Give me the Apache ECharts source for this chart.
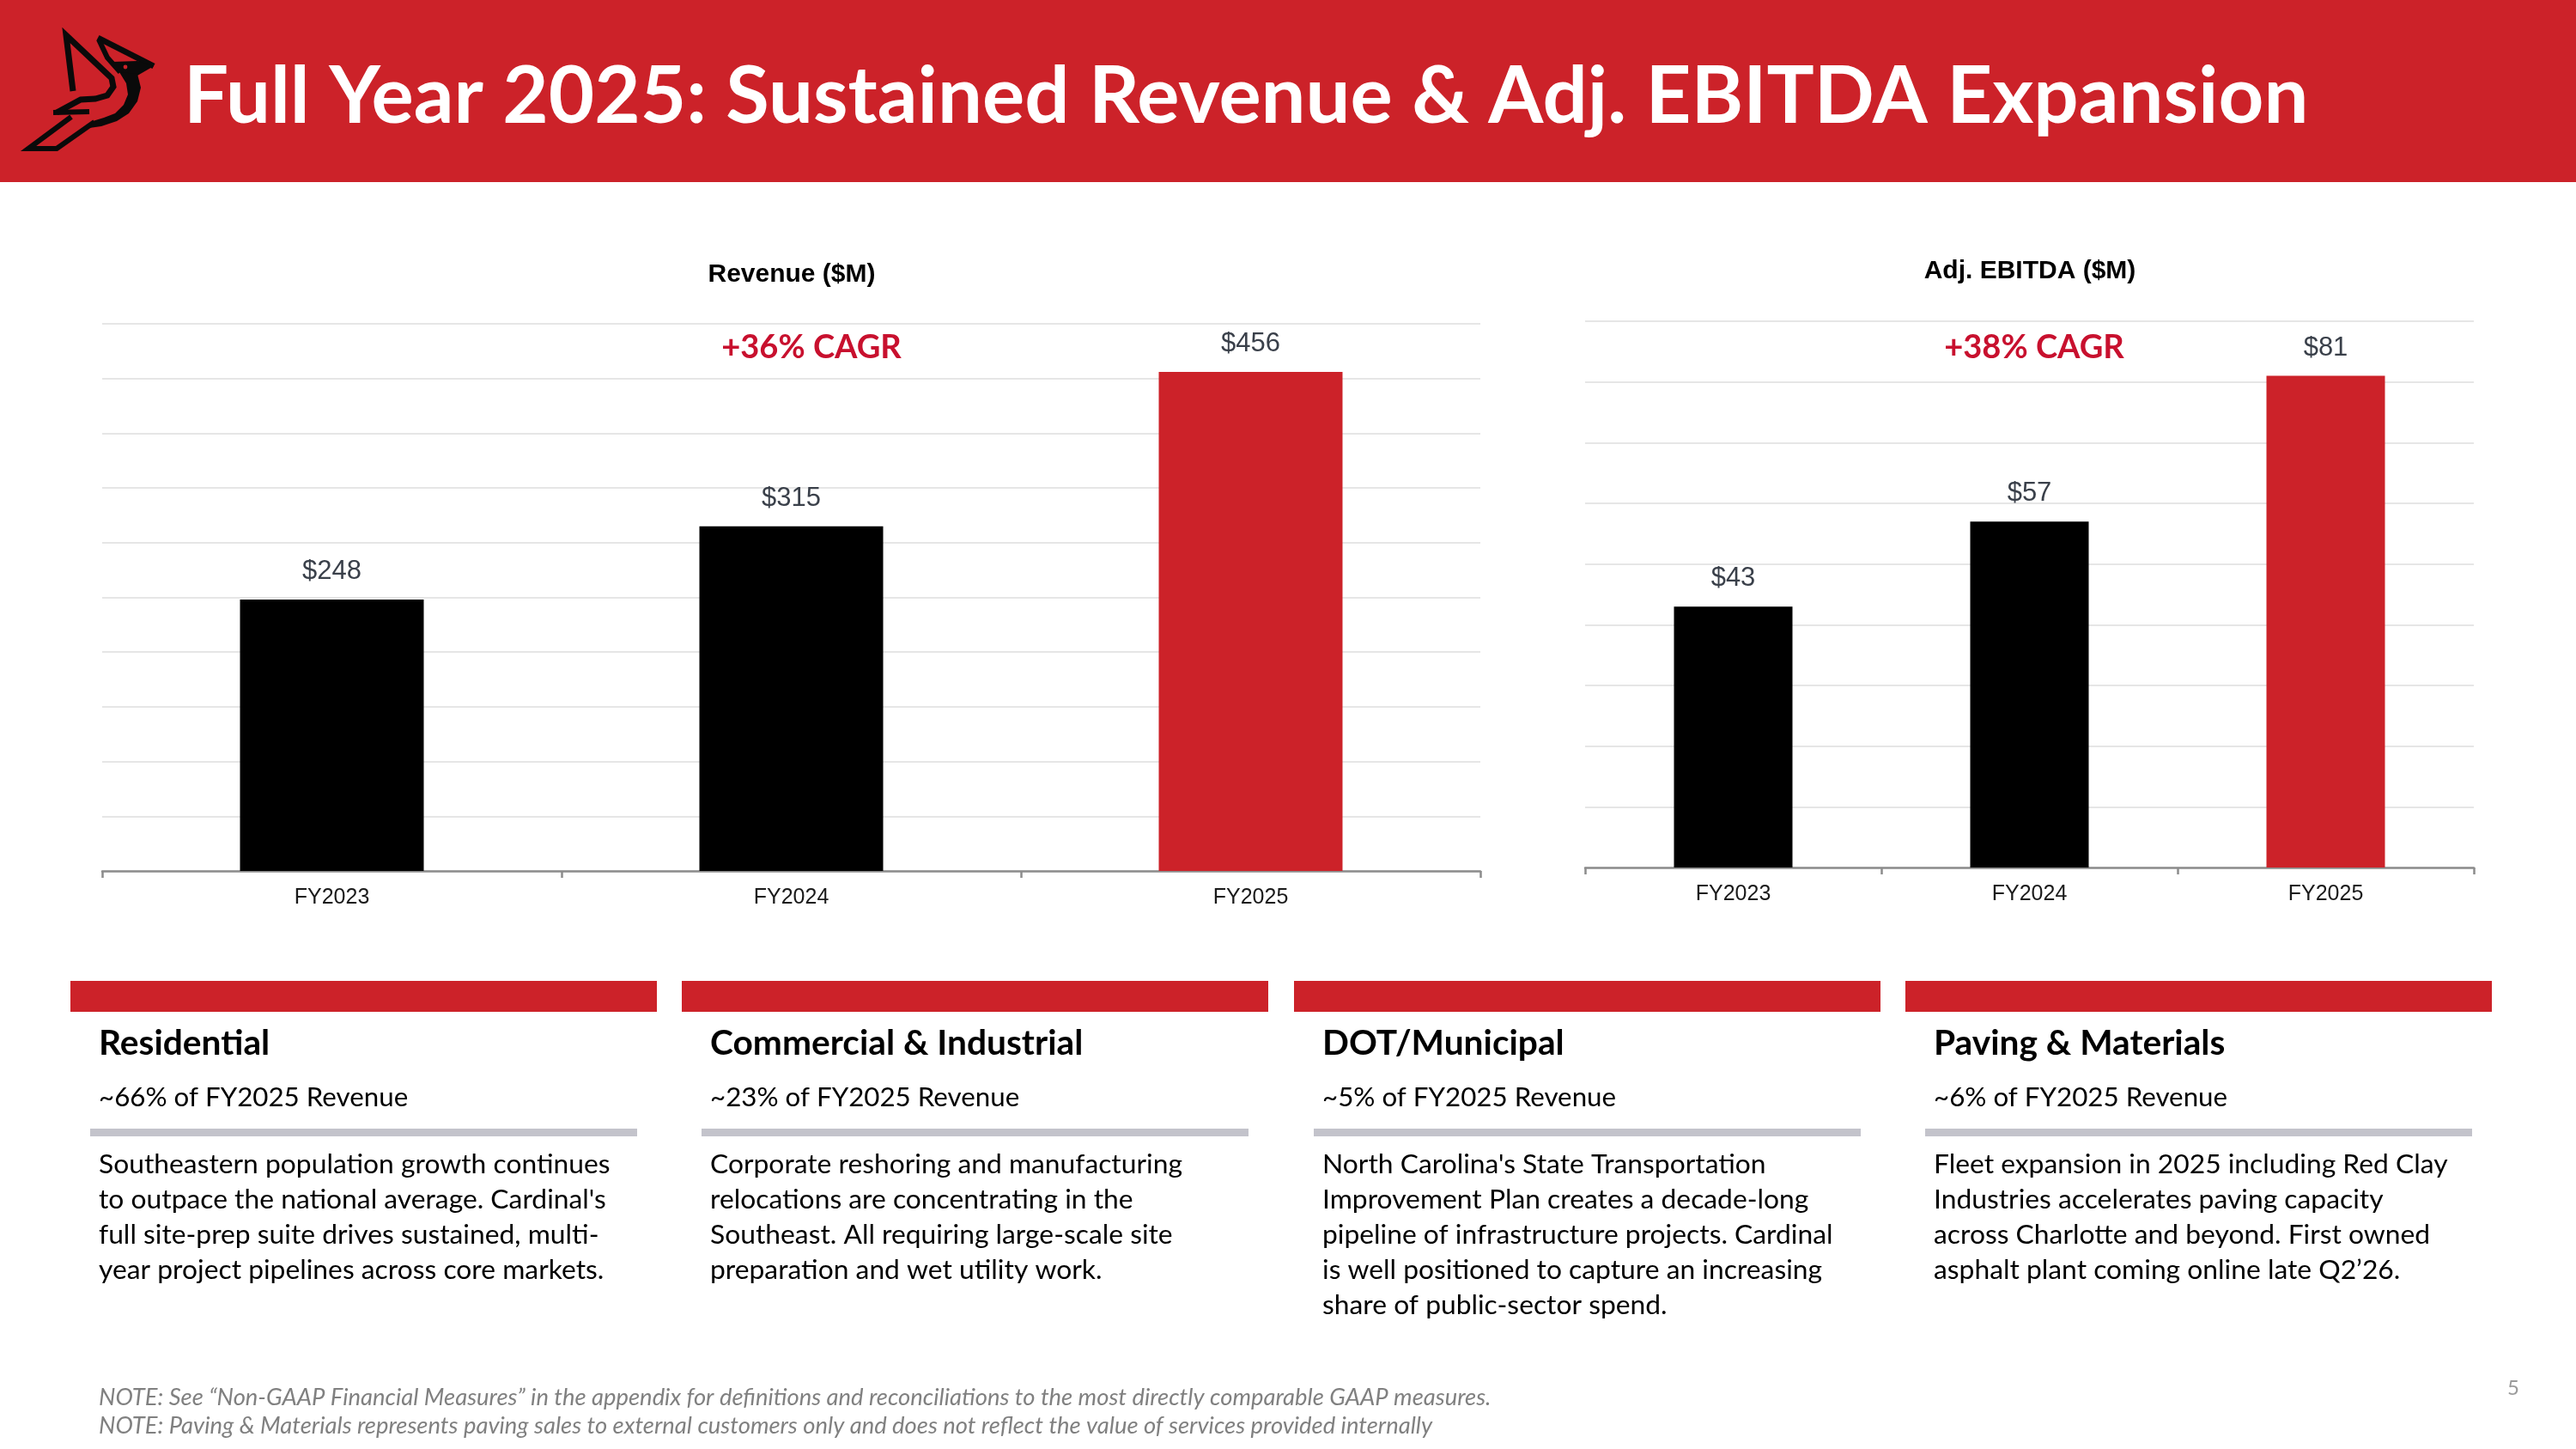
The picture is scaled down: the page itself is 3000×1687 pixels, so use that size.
<!DOCTYPE html>
<html>
<head>
<meta charset="utf-8">
<title>Full Year 2025</title>
<script src="https://cdn.jsdelivr.net/npm/echarts@6/dist/echarts.min.js"></script>
<style>
  html, body { margin: 0; padding: 0; background: #fff; }
  #page { width: 3000px; height: 1687px; }
</style>
</head>
<body>
<div id="page"></div>
<script>
/* FY2025 revenue / adj. EBITDA slide */

const years = ['FY2023', 'FY2024', 'FY2025'];
const revenue = [248, 315, 456];
const ebitda = [43, 57, 81];
const revTicks = { max: 500, step: 50 };
const ebitdaTicks = { max: 90, step: 10 };
const cagr = ['+36% CAGR', '+38% CAGR'];
const chartTitles = ['Revenue ($M)', 'Adj. EBITDA ($M)'];

const segNames = ['Residential', 'Commercial & Industrial', 'DOT/Municipal', 'Paving & Materials'];
const segShares = ['~66% of FY2025 Revenue', '~23% of FY2025 Revenue', '~5% of FY2025 Revenue', '~6% of FY2025 Revenue'];
const segBody = [
  ['Southeastern population growth continues', "to outpace the national average. Cardinal's", 'full site-prep suite drives sustained, multi-', 'year project pipelines across core markets.'],
  ['Corporate reshoring and manufacturing', 'relocations are concentrating in the', 'Southeast. All requiring large-scale site', 'preparation and wet utility work.'],
  ["North Carolina's State Transportation", 'Improvement Plan creates a decade-long', 'pipeline of infrastructure projects. Cardinal', 'is well positioned to capture an increasing', 'share of public-sector spend.'],
  ['Fleet expansion in 2025 including Red Clay', 'Industries accelerates paving capacity', 'across Charlotte and beyond. First owned', 'asphalt plant coming online late Q2\u201926.']
];
const notes = [
  'NOTE: See \u201cNon-GAAP Financial Measures\u201d in the appendix for definitions and reconciliations to the most directly comparable GAAP measures.',
  'NOTE: Paving & Materials represents paving sales to external customers only and does not reflect the value of services provided internally'
];
const pageNo = '5';

const RED = '#CC2229';
const CAGR_RED = '#C8102E';
const INK = '#0a0a0a';
const SANS = 'Lato, "Open Sans", sans-serif';
const ARIAL = '"Liberation Sans", Arial, sans-serif';

// size a font so the text spans the width measured on the slide
const ctx = document.createElement('canvas').getContext('2d');
function fit(text, weight, style, width) {
  ctx.font = `${style} ${weight} 100px ${SANS}`;
  return Math.round(1000 * width / ctx.measureText(text).width) / 10;
}

function txt(text, x, y, size, opts = {}) {
  return {
    type: 'text', x, y, z: 10,
    style: {
      text,
      fontSize: size,
      fontFamily: opts.family || SANS,
      fontWeight: opts.weight || 'normal',
      fontStyle: opts.style || 'normal',
      fill: opts.color || '#000',
      align: opts.align || 'left', textAlign: opts.align || 'left',
      verticalAlign: 'middle', textVerticalAlign: 'middle'
    }
  };
}

// cardinal logo, rough trace of the mark in the header
function logo() {
  const stroke = (points, w) => ({
    type: 'polyline', z: 10,
    shape: { points },
    style: { stroke: INK, lineWidth: w, fill: null, lineJoin: 'miter', lineCap: 'butt' }
  });
  const fillPoly = points => ({ type: 'polygon', z: 10, shape: { points }, style: { fill: INK } });
  return [
    // wing + "P" bowl running into the bar
    stroke([[85, 106], [77, 41], [130, 91], [132, 101], [125, 111], [111, 115], [94, 116], [66, 131]], 7),
    stroke([[62, 131], [104, 130]], 6),
    // tail
    stroke([[83, 136], [33, 173], [66, 173], [110, 142]], 6),
    // head crest
    stroke([[114, 44], [179, 77]], 7),
    stroke([[115, 46], [125, 67], [140, 84]], 6),
    fillPoly([[130, 72], [160, 71], [179, 77], [160, 88], [140, 85]]),
    // breast
    fillPoly([[160, 86], [164, 102], [160, 118], [150, 132], [136, 141], [118, 147], [104, 149],
              [108, 141], [121, 137], [134, 132], [144, 122], [149, 110], [147, 97], [139, 84]]),
    { type: 'circle', z: 11, shape: { cx: 146, cy: 78, r: 2.4 }, style: { fill: RED } }
  ];
}

function cards() {
  const xs = [82, 794, 1507, 2219];
  const headSize = fit(segNames[0], 'bold', 'normal', 199);
  const shareSize = fit(segShares[0], 'normal', 'normal', 360);
  const bodySize = fit(segBody[0][0], 'normal', 'normal', 595);
  const out = [];
  xs.forEach((x, i) => {
    out.push({ type: 'rect', shape: { x, y: 1142, width: 683, height: 36 }, style: { fill: RED } });
    out.push(txt(segNames[i], x + 33, 1215, headSize, { weight: 'bold' }));
    out.push(txt(segShares[i], x + 33, 1278, shareSize));
    out.push({ type: 'rect', shape: { x: x + 23, y: 1314, width: 637, height: 9 }, style: { fill: '#C3C3CB' } });
    segBody[i].forEach((line, j) => {
      out.push(txt(line, x + 33, 1356 + j * 41, bodySize));
    });
  });
  return out;
}

function barSeries(values, xi) {
  return {
    type: 'bar',
    xAxisIndex: xi, yAxisIndex: xi,
    data: values,
    barWidth: '40%',
    itemStyle: { color: p => (p.dataIndex === values.length - 1 ? RED : '#000') },
    label: {
      show: true, position: 'top', distance: 17,
      formatter: '${c}',
      fontFamily: ARIAL, fontSize: 31, color: '#3A404A'
    }
  };
}

function xAx(gi) {
  return {
    gridIndex: gi, type: 'category', data: years,
    axisLine: { lineStyle: { color: '#8C8C8C', width: 2.5 } },
    axisTick: { show: true, length: 8, lineStyle: { color: '#8C8C8C', width: 2.5 } },
    axisLabel: { margin: 19, fontFamily: ARIAL, fontSize: 25, color: '#1A1A1A' }
  };
}

function yAx(gi, t) {
  return {
    gridIndex: gi, type: 'value', min: 0, max: t.max, interval: t.step,
    axisLabel: { show: false }, axisLine: { show: false }, axisTick: { show: false },
    splitLine: { lineStyle: { color: '#E6E6E6', width: 2 } }
  };
}

const titleSize = fit('Full Year 2025: Sustained Revenue & Adj. EBITDA Expansion', 'bold', 'normal', 2474);
const cagrSize = fit(cagr[0], 'bold', 'normal', 210);
const noteSize = fit(notes[0], 'normal', 'italic', 1623);

const chart = echarts.init(document.getElementById('page'));
chart.setOption({
  animation: false,
  backgroundColor: '#fff',
  grid: [
    { left: 119, top: 377, width: 1605, height: 637 },
    { left: 1846, top: 374, width: 1035, height: 636 }
  ],
  xAxis: [xAx(0), xAx(1)],
  yAxis: [yAx(0, revTicks), yAx(1, ebitdaTicks)],
  series: [barSeries(revenue, 0), barSeries(ebitda, 1)],
  graphic: [
    { type: 'rect', shape: { x: 0, y: 0, width: 3000, height: 212 }, style: { fill: RED } },
    ...logo(),
    txt('Full Year 2025: Sustained Revenue & Adj. EBITDA Expansion', 214, 113, titleSize, { weight: 'bold', color: '#fff' }),
    txt(chartTitles[0], 922, 320, 30, { family: ARIAL, weight: 'bold', align: 'center' }),
    txt(chartTitles[1], 2364, 316, 30, { family: ARIAL, weight: 'bold', align: 'center' }),
    txt(cagr[0], 945, 405, cagrSize, { weight: 'bold', color: CAGR_RED, align: 'center' }),
    txt(cagr[1], 2369, 405, cagrSize, { weight: 'bold', color: CAGR_RED, align: 'center' }),
    ...cards(),
    txt(notes[0], 115, 1627, noteSize, { style: 'italic', color: '#808080' }),
    txt(notes[1], 115, 1660, noteSize, { style: 'italic', color: '#808080' }),
    txt(pageNo, 2927, 1616, 24, { color: '#9A9A9A', align: 'center' })
  ]
});
</script>
</body>
</html>
